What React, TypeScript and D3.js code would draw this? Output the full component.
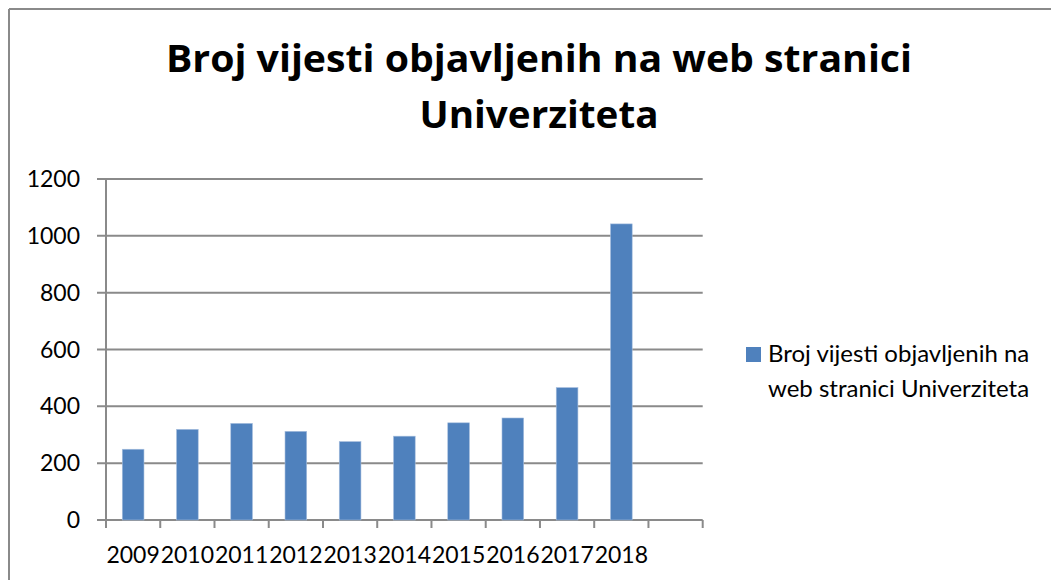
import React from "react";
import * as d3 from "d3";

const years = ["2009", "2010", "2011", "2012", "2013", "2014", "2015", "2016", "2017", "2018"];
const newsCounts = [249, 319, 340, 312, 276, 295, 342, 359, 466, 1042];
const yTicks = [0, 200, 400, 600, 800, 1000, 1200];
const titleLines = ["Broj vijesti objavljenih na web stranici", "Univerziteta"];
const titleWidths = [746, 239];
const legendLines = ["Broj vijesti objavljenih na", "web stranici Univerziteta"];

const W = 1051;
const H = 580;
const font = "Lato, 'Open Sans', sans-serif";
const gridColor = "#8a8a8a";
const barColor = "#4f81bd";

const App = () => {
  // one empty slot after 2018, like the source chart
  const x = d3
    .scaleBand()
    .domain([...years, ""])
    .range([106, 702.7])
    .padding(0);

  const y = d3.scaleLinear().domain([0, 1200]).range([520, 179]);

  const bw = x.bandwidth();
  const barW = bw * 0.4;
  const ticksX = [...years, ""].map((d) => x(d)).concat([x.range()[1]]);

  return (
    <svg
      width={W}
      height={H}
      style={{ position: "absolute", left: 0, top: 0, background: "#fff" }}
    >
      {/* outer frame */}
      <line x1={9} x2={W} y1={9} y2={9} stroke={gridColor} strokeWidth={2} />
      <line x1={9} x2={9} y1={9} y2={H} stroke={gridColor} strokeWidth={2} />

      {/* title */}
      <g fontFamily="'Open Sans', sans-serif" fontWeight="bold" fontSize={37} textAnchor="middle" fill="#000">
        {titleLines.map((t, i) => (
          <text
            key={i}
            x={539}
            y={72 + i * 56}
            textLength={titleWidths[i]}
            lengthAdjust="spacingAndGlyphs"
          >
            {t}
          </text>
        ))}
      </g>

      {/* gridlines + y labels */}
      {yTicks.map((t) => (
        <g key={t}>
          <line x1={97} x2={x.range()[1]} y1={y(t)} y2={y(t)} stroke={gridColor} strokeWidth={2} />
          <text
            x={80}
            y={y(t)}
            dy="0.35em"
            textAnchor="end"
            fontFamily={font}
            fontSize={23}
            fill="#000"
          >
            {t}
          </text>
        </g>
      ))}

      {/* y axis */}
      <line x1={106} x2={106} y1={y(1200)} y2={528} stroke={gridColor} strokeWidth={2} />

      {/* x ticks */}
      {ticksX.map((tx, i) => (
        <line key={i} x1={tx} x2={tx} y1={y(0)} y2={528} stroke={gridColor} strokeWidth={2} />
      ))}

      {/* bars */}
      {years.map((yr, i) => (
        <rect
          key={yr}
          x={(x(yr) as number) + (bw - barW) / 2}
          y={y(newsCounts[i])}
          width={barW}
          height={y(0) - y(newsCounts[i])}
          fill={barColor}
          stroke="#a7bfde"
          strokeWidth={0.6}
        />
      ))}

      {/* x labels */}
      {years.map((yr) => (
        <text
          key={yr}
          x={(x(yr) as number) + bw / 2}
          y={563}
          textAnchor="middle"
          fontFamily={font}
          fontSize={23}
          fill="#000"
        >
          {yr}
        </text>
      ))}

      {/* legend */}
      <rect x={746} y={347} width={15} height={15} fill={barColor} />
      <g fontFamily={font} fontSize={24} fill="#000">
        {legendLines.map((t, i) => (
          <text key={i} x={768} y={362 + i * 35}>
            {t}
          </text>
        ))}
      </g>
    </svg>
  );
};

export default App;
